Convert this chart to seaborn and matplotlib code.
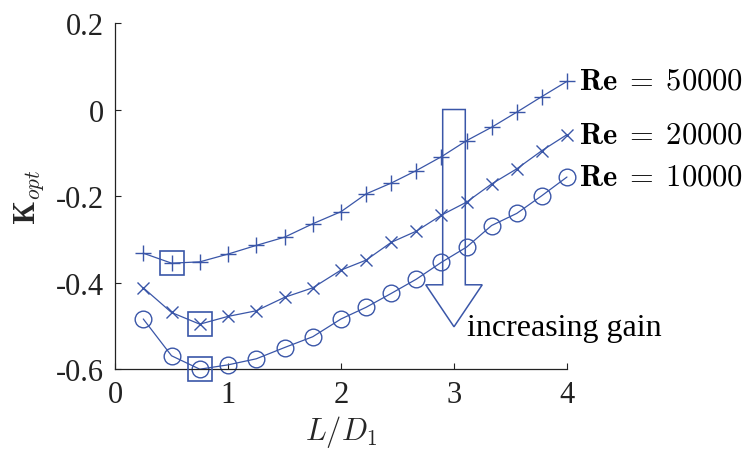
import numpy as np
import pandas as pd
import matplotlib
matplotlib.use("Agg")
import matplotlib.pyplot as plt
from matplotlib.patches import Polygon
import seaborn as sns

# Length ratio L/D1 sampled for each Reynolds number
ratio = [0.25, 0.5, 0.75, 1.0, 1.25, 1.5, 1.75, 2.0,
         2.222, 2.444, 2.667, 2.889, 3.111, 3.333, 3.556, 3.778, 4.0]

# Optimal gain K_opt for each Reynolds number
k_re50000 = [-0.332, -0.355, -0.352, -0.334, -0.314, -0.295, -0.264, -0.236,
             -0.195, -0.170, -0.141, -0.109, -0.072, -0.041, -0.006, 0.030, 0.065]
k_re20000 = [-0.412, -0.469, -0.496, -0.478, -0.465, -0.434, -0.412, -0.371,
             -0.348, -0.307, -0.281, -0.244, -0.214, -0.172, -0.137, -0.095, -0.058]
k_re10000 = [-0.484, -0.569, -0.600, -0.590, -0.576, -0.550, -0.525, -0.484,
             -0.457, -0.425, -0.392, -0.353, -0.318, -0.268, -0.240, -0.199, -0.156]

reynolds = [50000, 20000, 10000]
markers = ['+', 'x', 'o']
series = [k_re50000, k_re20000, k_re10000]

x_ticks = [0, 1, 2, 3, 4]
y_ticks = [-0.6, -0.4, -0.2, 0.0, 0.2]
y_tick_labels = ['-0.6', '-0.4', '-0.2', '0', '0.2']

sns.set_style("ticks")
plt.rcParams['font.family'] = ['Liberation Serif', 'DejaVu Serif']
plt.rcParams['mathtext.fontset'] = 'cm'

blue = '#3a56a8'
fs = 22

fig = plt.figure(figsize=(7.47, 4.52), dpi=100)
ax = fig.add_axes([0.154, 0.181, 0.605, 0.766])

for re, mk, vals in zip(reynolds, markers, series):
    df = pd.DataFrame({'ratio': ratio, 'k': vals})
    msize = 12 if mk != 'x' else 9
    sns.lineplot(data=df, x='ratio', y='k', ax=ax, color=blue, lw=0.9,
                 marker=mk, markersize=msize, markeredgewidth=1.0,
                 markerfacecolor='none', markeredgecolor=blue,
                 clip_on=False, legend=False)
    i_min = int(np.argmin(vals))
    ax.plot(ratio[i_min], vals[i_min], marker='s', markersize=17.5,
            markerfacecolor='none', markeredgecolor=blue,
            markeredgewidth=1.2, clip_on=False, zorder=5)
    ax.text(ratio[-1] + 0.11, vals[-1], rf'$\mathbf{{Re}}\;=\;{re}$',
            fontsize=fs, va='center', ha='left', color='black')

# Hollow arrow indicating the direction of increasing gain
arrow = Polygon([(2.9, 0.0), (3.1, 0.0), (3.1, -0.405), (3.25, -0.405),
                 (3.0, -0.502), (2.75, -0.405), (2.9, -0.405)],
                closed=True, fill=False, edgecolor=blue, lw=1.1, zorder=6)
ax.add_patch(arrow)
ax.text(3.115, -0.522, 'increasing gain', fontsize=fs + 1, ha='left',
        va='baseline', color='black')

ax.set_xlim(0, 4)
ax.set_ylim(-0.6, 0.2)
ax.set_xticks(x_ticks)
ax.set_yticks(y_ticks)
ax.set_yticklabels(y_tick_labels)
ax.tick_params(direction='in', length=4, width=0.8, labelsize=fs, pad=8,
               colors='#222222', labelcolor='#222222')
for s in ['top', 'right']:
    ax.spines[s].set_visible(False)
for s in ['left', 'bottom']:
    ax.spines[s].set_linewidth(0.9)
    ax.spines[s].set_color('#222222')

ax.set_xlabel(r'$L/D_1$', fontsize=fs, labelpad=3)
ax.set_ylabel(r'$\mathbf{K}_{opt}$', fontsize=fs, labelpad=7)

fig.savefig('out.png', dpi=100)
